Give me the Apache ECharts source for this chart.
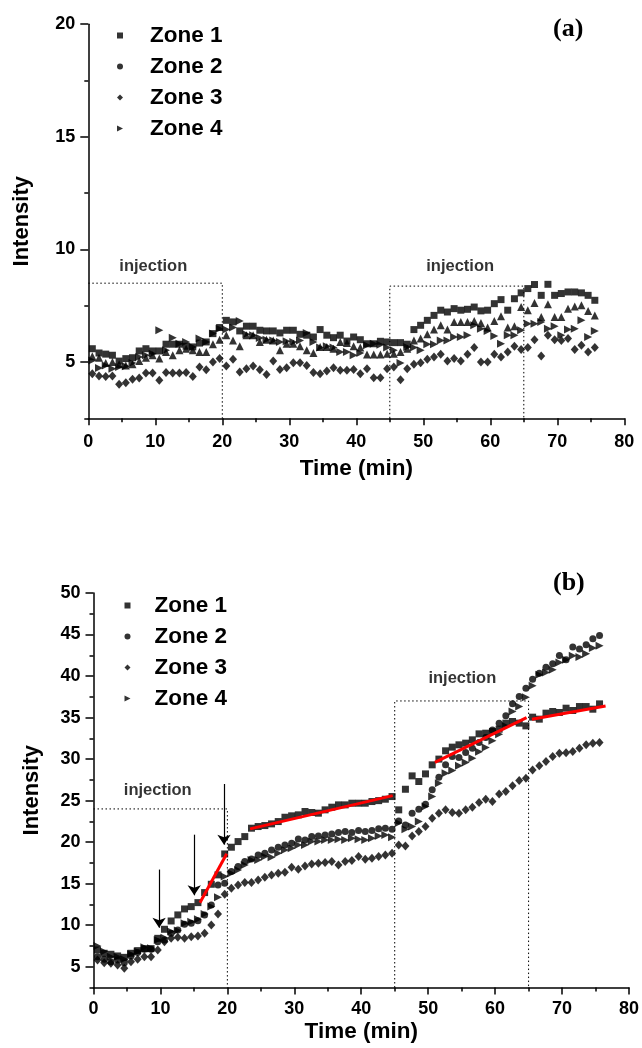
<!DOCTYPE html>
<html>
<head>
<meta charset="utf-8">
<script src="https://cdn.jsdelivr.net/npm/echarts@6/dist/echarts.min.js"></script>
<style>
html,body{margin:0;padding:0;background:#fff;}
#chart{width:642px;height:1048px;}
</style>
</head>
<body>
<div id="chart"></div>
<script>
// ---------- DATA ----------
const time = [0.6,1.6,2.6,3.6,4.6,5.6,6.6,7.6,8.6,9.6,10.6,11.6,12.6,13.6,14.6,15.6,16.6,17.6,18.6,19.6,
  20.6,21.6,22.6,23.6,24.6,25.6,26.6,27.6,28.6,29.6,30.6,31.6,32.6,33.6,34.6,35.6,36.6,37.6,38.6,39.6,
  40.6,41.6,42.6,43.6,44.6,45.6,46.6,47.6,48.6,49.6,50.6,51.6,52.6,53.6,54.6,55.6,56.6,57.6,58.6,59.6,
  60.6,61.6,62.6,63.6,64.6,65.6,66.6,67.6,68.6,69.6,70.6,71.6,72.6,73.6,74.6,75.6];

const zoneNames = ['Zone 1','Zone 2','Zone 3','Zone 4'];

// Panel (a)
const a_zone1 = [5.59,5.40,5.35,5.30,5.04,5.15,5.19,5.49,5.59,5.49,5.49,5.79,5.79,5.79,5.70,5.67,5.84,5.89,6.26,6.53,
  6.85,6.78,6.38,6.59,6.59,6.41,6.38,6.38,6.29,6.41,6.41,6.23,6.19,6.11,6.44,6.19,6.08,6.19,5.93,6.11,
  5.99,5.81,5.81,5.92,5.89,5.86,5.86,5.79,6.44,6.63,6.85,7.07,7.30,7.22,7.37,7.30,7.34,7.44,7.27,7.30,
  7.59,7.77,7.30,7.81,8.07,8.26,8.44,7.96,8.45,7.96,8.04,8.11,8.11,8.07,7.96,7.74];
const a_zone2 = [5.25,5.19,4.96,5.00,4.90,4.85,4.90,5.04,5.19,5.30,5.15,5.44,5.30,5.52,5.59,5.52,5.44,5.44,5.79,5.99,
  6.19,5.96,5.70,6.19,6.19,5.89,5.99,5.96,5.52,5.81,5.81,5.70,5.52,5.40,5.67,5.67,5.59,5.89,5.84,5.70,
  5.64,5.33,5.33,5.33,5.37,5.37,5.44,5.59,5.96,6.04,6.23,6.44,6.63,6.44,6.78,6.78,6.78,6.82,6.73,6.53,
  6.82,7.03,6.53,6.59,7.44,7.30,7.62,7.00,7.56,7.00,7.00,7.37,7.47,7.52,7.27,7.07];
const a_zone3 = [4.48,4.38,4.36,4.38,4.01,4.08,4.23,4.29,4.51,4.51,4.19,4.53,4.51,4.51,4.53,4.36,4.78,4.66,5.00,5.15,
  4.82,5.12,4.56,4.70,4.82,4.66,4.44,5.04,4.67,4.75,4.97,4.97,4.85,4.53,4.48,4.60,4.75,4.63,4.63,4.67,
  4.48,4.70,4.30,4.30,4.70,4.78,4.21,4.70,4.90,4.97,5.12,5.22,5.34,5.04,5.15,5.04,5.34,5.64,5.00,5.00,
  5.34,5.22,5.44,5.70,5.56,5.64,5.99,5.27,6.19,5.99,5.96,6.04,5.56,5.74,5.44,5.64];
const a_zone4 = [5.07,4.73,4.85,4.70,4.78,4.81,4.96,5.22,5.30,5.37,6.41,5.52,6.08,5.81,5.89,5.67,6.04,5.89,6.26,6.48,
  6.44,6.53,6.82,6.23,6.19,6.07,5.99,5.96,5.89,5.92,5.89,5.96,6.29,5.89,5.64,5.70,5.64,5.44,5.44,5.30,
  5.40,5.74,5.81,5.77,5.64,5.52,4.96,5.67,5.64,5.52,5.79,5.79,5.96,5.96,6.11,6.11,6.19,6.63,6.48,6.38,
  6.16,5.81,6.19,6.19,6.41,6.70,6.70,6.78,6.48,6.59,6.19,6.44,6.48,6.85,6.11,6.38];

// Panel (b)
const b_zone1 = [7.02,6.62,6.50,6.30,6.13,6.62,6.94,7.18,7.18,8.42,9.51,10.51,11.24,11.96,12.24,12.72,13.93,14.93,16.06,18.58,
  19.39,20.07,20.67,21.68,21.88,22.00,22.20,22.48,23.00,23.17,23.29,23.69,23.57,23.49,23.89,24.21,24.49,24.49,24.69,24.69,
  24.69,24.89,25.00,25.17,25.49,23.89,26.37,27.98,27.30,28.22,29.31,30.00,31.00,31.44,31.72,31.92,32.32,33.04,33.12,33.32,
  33.60,34.33,34.53,34.33,34.00,35.05,34.81,35.53,35.73,35.61,36.13,35.85,36.33,36.33,36.01,36.65];
const b_zone2 = [6.21,5.89,5.61,5.81,5.49,6.30,6.70,7.10,7.10,8.02,8.22,9.03,9.43,10.11,10.23,10.55,11.24,12.44,14.85,15.05,
  16.46,17.06,17.66,17.98,18.46,18.66,19.07,19.39,19.67,19.87,20.39,20.27,20.67,20.75,20.87,20.99,21.15,21.27,21.15,21.39,
  21.27,21.39,21.60,21.68,21.56,22.56,22.08,23.48,23.97,24.57,26.30,27.83,29.31,30.30,30.20,30.80,31.30,32.00,32.60,33.50,
  34.33,35.21,36.66,37.54,38.54,39.63,40.35,41.07,41.47,42.48,41.96,43.50,43.25,43.77,44.50,44.87];
const b_zone3 = [5.81,5.49,5.41,5.21,4.81,5.61,5.89,6.21,6.21,7.02,8.02,8.42,8.54,8.42,8.62,8.70,9.03,10.03,11.36,13.73,
  14.45,14.85,15.13,15.13,15.45,15.77,16.06,16.26,16.38,16.98,16.74,17.14,17.38,17.46,17.54,17.66,17.26,17.66,17.78,18.26,
  17.94,18.06,18.26,18.46,18.66,19.67,19.55,20.75,21.27,21.88,22.88,23.48,23.89,23.57,23.48,23.89,24.21,24.77,25.17,24.89,
  25.81,26.10,26.78,27.42,27.70,28.70,29.19,29.71,30.31,30.71,30.78,30.91,31.31,31.72,31.92,32.00];
const b_zone4 = [7.50,6.82,6.21,6.21,5.89,6.54,6.82,7.34,7.22,8.22,8.50,9.23,9.35,10.23,10.43,10.71,11.36,12.24,13.36,15.85,
  16.26,16.66,17.26,17.86,17.86,18.26,18.18,18.66,19.07,19.27,19.67,19.67,20.07,20.07,20.27,20.27,20.35,20.27,20.47,20.35,
  20.27,20.47,20.75,20.87,20.59,22.30,21.56,21.88,22.48,24.29,25.49,27.10,28.30,28.63,29.20,29.60,30.10,30.90,31.40,32.20,
  33.00,34.00,35.73,36.33,37.46,38.82,40.15,40.43,40.75,41.63,41.96,42.44,42.28,42.68,43.37,43.65];

// Injection windows (dotted outlines)
const a_inj1 = [[0,8.5],[20,8.5],[20,2.5]];
const a_inj2 = [[45,2.5],[45,8.37],[65,8.37],[65,2.5]];
const b_inj1 = [[0,24.0],[20,24.0],[20,2.5]];
const b_inj2 = [[45,2.5],[45,37.0],[65,37.0],[65,2.5]];
const a_injLabels = [[9.7,9.24],[55.5,9.24]];
const b_injLabels = [[9.6,26.2],[55.1,39.7]];

// Red fitted segments in (b)
const b_fits = [
  [[15.9,12.7],[19.9,18.6]],
  [[23.4,21.6],[44.7,25.6]],
  [[51.0,29.6],[64.7,35.0]],
  [[65.5,34.8],[76.5,36.4]]
];
// Arrows in (b): [x, yStart, yEnd]
const b_arrows = [[9.8,16.7,9.7],[15.05,20.9,13.6],[19.5,27.0,19.7]];

// Axis tick values
const xTicks = {min:0,max:80,interval:10};
const a_yMajor = [5,10,15,20];
const a_yMinor = [2.5,7.5,12.5,17.5];
const b_yMajor = [5,10,15,20,25,30,35,40,45,50];
const b_yMinor = [2.5,7.5,12.5,17.5,22.5,27.5,32.5,37.5,42.5,47.5];

// ---------- CHART ----------
const FONT = 'Liberation Sans, Arial, sans-serif';
const BLACK = '#000';
const rightTri = 'path://M0,0L10,5L0,10Z';

const chart = echarts.init(document.getElementById('chart'), null, {renderer:'canvas'});

function xAxisDef(grid, gap, nameGap) {
  return {
    gridIndex: grid, type:'value', min:xTicks.min, max:xTicks.max, interval:xTicks.interval,
    axisLine:{show:true, onZero:false, lineStyle:{color:BLACK,width:1.5}},
    axisTick:{show:true, length:7, lineStyle:{color:BLACK,width:1.5}},
    minorTick:{show:true, splitNumber:2, length:4, lineStyle:{color:BLACK,width:1.5}},
    splitLine:{show:false},
    axisLabel:{color:BLACK, fontSize:18, fontWeight:'bold', fontFamily:FONT, margin:gap},
    name:'Time (min)', nameLocation:'middle', nameGap:nameGap,
    nameTextStyle:{color:BLACK, fontSize:22.5, fontWeight:'bold', fontFamily:FONT}
  };
}
function yAxisMain(grid, min, max, majors, nameGap) {
  return {
    gridIndex: grid, type:'value', position:'left', min:min, max:max, interval:2.5,
    axisLine:{show:true, onZero:false, lineStyle:{color:BLACK,width:1.5}},
    axisTick:{show:true, length:8, customValues:majors, lineStyle:{color:BLACK,width:1.5}},
    splitLine:{show:false},
    axisLabel:{color:BLACK, fontSize:18, fontWeight:'bold', fontFamily:FONT, margin:13, customValues:majors},
    name:'Intensity', nameLocation:'middle', nameGap:nameGap,
    nameTextStyle:{color:BLACK, fontSize:22, fontWeight:'bold', fontFamily:FONT}
  };
}
function yAxisMinor(grid, min, max, minors) {
  return {
    gridIndex: grid, type:'value', position:'left', offset:0, min:min, max:max, interval:2.5,
    axisLine:{show:false},
    axisTick:{show:true, length:4, customValues:minors, lineStyle:{color:BLACK,width:1.5}},
    axisLabel:{show:false}, splitLine:{show:false}
  };
}

function scatter(name, xi, yi, vals, symbol, size) {
  return {
    name:name, type:'scatter', xAxisIndex:xi, yAxisIndex:yi,
    symbol:symbol, symbolSize:size,
    itemStyle:{color:BLACK}, z:3,
    data: time.map((t,i)=>[t, vals[i]])
  };
}
function dotted(xi, yi, pts) {
  return {type:'line', xAxisIndex:xi, yAxisIndex:yi, data:pts, symbol:'none', silent:true,
    lineStyle:{color:BLACK, width:1, type:[1.5,2.5]}, z:1};
}
function injText(xi, yi, pts) {
  return {type:'scatter', xAxisIndex:xi, yAxisIndex:yi, data:pts, symbolSize:0, silent:true,
    label:{show:true, position:'inside', formatter:'injection', color:BLACK, fontSize:16.5, fontWeight:'bold', fontFamily:FONT}};
}

const series = [];
const aVals = [a_zone1,a_zone2,a_zone3,a_zone4];
const bVals = [b_zone1,b_zone2,b_zone3,b_zone4];
const aSym = [['rect',7],['triangle',8],['diamond',[8,9]],[rightTri,8]];
const bSym = [['rect',7],['circle',7],['diamond',[8,9]],[rightTri,8]];
zoneNames.forEach((n,i)=>series.push(scatter(n,0,0,aVals[i],aSym[i][0],aSym[i][1])));
zoneNames.forEach((n,i)=>series.push(scatter(n,1,2,bVals[i],bSym[i][0],bSym[i][1])));
series.push(dotted(0,0,a_inj1), dotted(0,0,a_inj2), dotted(1,2,b_inj1), dotted(1,2,b_inj2));
series.push(injText(0,0,a_injLabels), injText(1,2,b_injLabels));
b_fits.forEach(seg=>series.push({type:'line', xAxisIndex:1, yAxisIndex:2, data:seg, symbol:'none', silent:true,
  lineStyle:{color:'#ff0000', width:3}, z:4}));
series.push({type:'line', xAxisIndex:1, yAxisIndex:2, data:[], silent:true,
  markLine:{silent:true, symbol:['none','arrow'], symbolSize:10, label:{show:false},
    lineStyle:{color:BLACK, width:1.2, type:'solid'},
    data: b_arrows.map(a=>[{coord:[a[0],a[1]]},{coord:[a[0],a[2]]}])}});

const legendIcons = ['rect','circle','diamond',rightTri];
function legendDef(left, top, pad) {
  return {
    orient:'vertical', left:left, top:top, itemWidth:6, itemHeight:6, itemGap:8, padding:0,
    selectedMode:false,
    textStyle:{color:BLACK, fontSize:22.5, fontWeight:'bold', fontFamily:FONT, lineHeight:22, padding:[0,0,0,pad]},
    data: zoneNames.map((n,i)=>({name:n, icon:legendIcons[i]}))
  };
}

chart.setOption({
  animation:false,
  backgroundColor:'#fff',
  title:[
    {text:'(a)', left:553, top:16, padding:0, textStyle:{fontFamily:'Liberation Serif, Times New Roman, serif', fontWeight:'bold', fontSize:26, color:BLACK}},
    {text:'(b)', left:553, top:570, padding:0, textStyle:{fontFamily:'Liberation Serif, Times New Roman, serif', fontWeight:'bold', fontSize:26, color:BLACK}}
  ],
  legend:[legendDef(117, 24, 22), legendDef(124.5, 594, 19)],
  grid:[
    {left:88.3, top:24.2, width:536, height:394.1},
    {left:93.5, top:593, width:536, height:394.5}
  ],
  xAxis:[xAxisDef(0,15,39), xAxisDef(1,13,33)],
  yAxis:[
    yAxisMain(0,2.5,20,a_yMajor,55), yAxisMinor(0,2.5,20,a_yMinor),
    yAxisMain(1,2.5,50,b_yMajor,51), yAxisMinor(1,2.5,50,b_yMinor)
  ],
  series:series
});
</script>
</body>
</html>
